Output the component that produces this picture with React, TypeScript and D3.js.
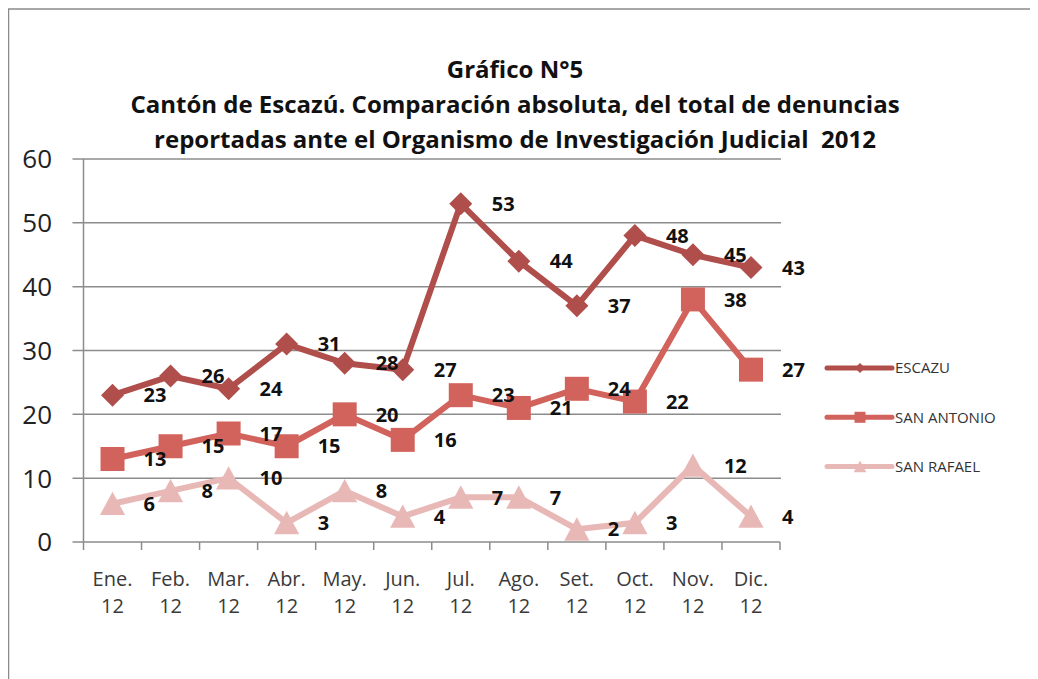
import * as d3 from "d3";

const months = ["Ene.", "Feb.", "Mar.", "Abr.", "May.", "Jun.", "Jul.", "Ago.", "Set.", "Oct.", "Nov.", "Dic."];
const yearLabel = "12";
const escazu = [23, 26, 24, 31, 28, 27, 53, 44, 37, 48, 45, 43];
const sanAntonio = [13, 15, 17, 15, 20, 16, 23, 21, 24, 22, 38, 27];
const sanRafael = [6, 8, 10, 3, 8, 4, 7, 7, 2, 3, 12, 4];
const yTicks = [0, 10, 20, 30, 40, 50, 60];
const titleLines = [
  "Gráfico N°5",
  "Cantón de Escazú. Comparación absoluta, del total de denuncias",
  "reportadas ante el Organismo de Investigación Judicial  2012",
];

const FONT = "'Open Sans', Lato, sans-serif";

// marker shapes, centred on (0,0)
const markerPath = (kind: string, r: number) => {
  if (kind === "diamond") return `M0,${-r}L${r},0L0,${r}L${-r},0Z`;
  if (kind === "square") return `M${-r},${-r}H${r}V${r}H${-r}Z`;
  return `M0,${-r}L${r * 1.05},${r * 0.95}H${-r * 1.05}Z`;
};

const series = [
  { name: "ESCAZU", values: escazu, color: "#B04E4C", marker: "diamond", size: 11.5, legendSize: 5 },
  { name: "SAN ANTONIO", values: sanAntonio, color: "#D2625C", marker: "square", size: 12, legendSize: 5.5 },
  { name: "SAN RAFAEL", values: sanRafael, color: "#E8B8B6", marker: "triangle", size: 12, legendSize: 6 },
];

export default function App() {
  const width = 1030;
  const height = 671;
  // svg sits at (8,8) because of the body margin
  const left = 75.5;
  const right = 772;
  const top = 151;
  const bottom = 534;

  const x = d3.scaleBand<string>().domain(months).range([left, right]);
  const y = d3.scaleLinear().domain([0, 60]).range([bottom, top]);
  const cx = (m: string) => (x(m) as number) + x.bandwidth() / 2;

  const line = d3
    .line<number>()
    .x((_, i) => cx(months[i]))
    .y((d) => y(d));

  const bounds = [...months.map((m) => x(m) as number), right];

  return (
    <svg width={width} height={height} style={{ display: "block", fontFamily: FONT }}>
      <rect x={0.5} y={1} width={width + 20} height={height + 20} fill="#fff" stroke="#8a8a8a" strokeWidth={1.5} />

      {titleLines.map((t, i) => (
        <text
          key={i}
          x={507}
          y={70 + i * 35}
          textAnchor="middle"
          fontSize={24}
          fontWeight="bold"
          fill="#111"
          style={{ whiteSpace: "pre" }}
        >
          {t}
        </text>
      ))}

      {/* grid + y axis */}
      {yTicks.map((t) => (
        <g key={t}>
          {t > 0 && <line x1={left - 11} x2={right + 1} y1={y(t)} y2={y(t)} stroke="#8c8c8c" strokeWidth={1.5} />}
          <text x={44} y={y(t)} dy="0.36em" textAnchor="end" fontSize={26} fill="#222">
            {t}
          </text>
        </g>
      ))}
      <line x1={left} x2={left} y1={top} y2={bottom} stroke="#8c8c8c" strokeWidth={1.5} />
      <line x1={left - 11} x2={right} y1={bottom} y2={bottom} stroke="#8c8c8c" strokeWidth={1.5} />
      {bounds.map((b, i) => (
        <line key={i} x1={b} x2={b} y1={bottom} y2={bottom + 8} stroke="#8c8c8c" strokeWidth={1.5} />
      ))}
      {months.map((m) => (
        <text key={m} x={cx(m)} textAnchor="middle" fontSize={20} fill="#3a3a3a">
          <tspan x={cx(m)} y={578}>
            {m}
          </tspan>
          <tspan x={cx(m)} y={605}>
            {yearLabel}
          </tspan>
        </text>
      ))}

      {/* series */}
      {series.map((s) => (
        <g key={s.name}>
          <path d={line(s.values) as string} fill="none" stroke={s.color} strokeWidth={6} strokeLinejoin="miter" />
          {s.values.map((v, i) => (
            <path
              key={i}
              transform={`translate(${cx(months[i])},${y(v)})`}
              d={markerPath(s.marker, s.size)}
              fill={s.color}
            />
          ))}
        </g>
      ))}
      {series.map((s) =>
        s.values.map((v, i) => (
          <text
            key={s.name + i}
            x={cx(months[i]) + 31}
            y={y(v)}
            dy="0.36em"
            fontSize={20}
            fontWeight="bold"
            fill="#111"
          >
            {v}
          </text>
        ))
      )}

      {/* legend */}
      {series.map((s, i) => {
        const ly = 360 + i * 49.3;
        return (
          <g key={s.name}>
            <line x1={819} x2={884} y1={ly} y2={ly} stroke={s.color} strokeWidth={5} strokeLinecap="round" />
            <path transform={`translate(852,${ly})`} d={markerPath(s.marker, s.legendSize)} fill={s.color} />
            <text x={887} y={ly} dy="0.36em" fontSize={15} fill="#333">
              {s.name}
            </text>
          </g>
        );
      })}
    </svg>
  );
}
